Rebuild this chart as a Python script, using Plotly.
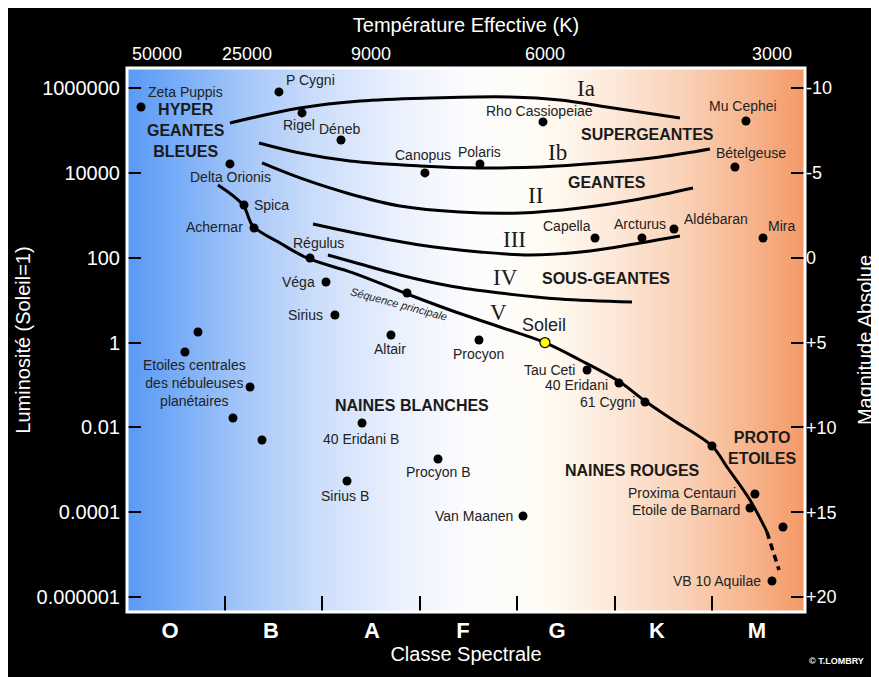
import plotly.graph_objects as go

# ---------------- axes data ----------------
# spectral coordinate: O=0 ... M=6, class boundaries at half-integers
class_labels = ["O", "B", "A", "F", "G", "K", "M"]
class_pos = [-0.065, 0.972, 2.009, 2.944, 3.909, 4.935, 5.962]
class_bounds = [0.5, 1.5, 2.5, 3.5, 4.5, 5.5]
temp_labels = ["50000", "25000", "9000", "6000", "3000"]
temp_pos = [-0.198, 0.726, 2.0, 3.785, 6.116]
lum_ticks = [6, 4, 2, 0, -2, -4, -6]          # log10(L / Lsun)
lum_labels = ["1000000", "10000", "100", "1", "0.01", "0.0001", "0.000001"]
mag_ticks = [-10, -5, 0, 5, 10, 15, 20]
mag_labels = ["-10", "-5", "0", "+5", "+10", "+15", "+20"]

X_RANGE = [-0.506, 6.455]
Y_RANGE = [-6.35, 6.47]

# ---------------- stars ----------------
star_names = ["Zeta Puppis", "P Cygni", "Rigel", "Déneb", "Delta Orionis", "Spica",
              "Achernar", "Régulus", "Véga", "Sirius", "Altair", "Procyon",
              "Tau Ceti", "40 Eridani", "61 Cygni", "Canopus", "Polaris",
              "Rho Cassiopeiae", "Mu Cephei", "Bételgeuse", "Capella", "Arcturus",
              "Aldébaran", "Mira", "40 Eridani B", "Sirius B", "Procyon B",
              "Van Maanen", "Proxima Centauri", "Etoile de Barnard", "VB 10 Aquilae"]
star_spec = [-0.362, 1.054, 1.291, 1.691, 0.551, 0.695, 0.798, 1.373, 1.537, 1.629,
             2.204, 3.108, 4.217, 4.545, 4.812, 2.553, 3.118, 3.765, 5.849, 5.736,
             4.299, 4.781, 5.110, 6.024, 1.907, 1.753, 2.687, 3.560, 5.941, 5.890, 6.116]
star_logL = [5.552, 5.906, 5.411, 4.774, 4.209, 3.242, 2.700, 1.993, 1.427, 0.650,
             0.178, 0.060, -0.647, -0.953, -1.401, 3.997, 4.209, 5.199, 5.222, 4.138,
             2.464, 2.464, 2.677, 2.464, -1.896, -3.263, -2.744, -4.088, -3.569, -3.899,
             -5.620]

pn_spec = [0.223, 0.089, 0.757, 0.582, 0.880]     # central stars of planetary nebulae
pn_logL = [0.249, -0.222, -1.047, -1.778, -2.297]
other_spec = [2.369, 5.500, 6.229]
other_logL = [1.168, -2.438, -4.347]
sun_spec = [3.785]
sun_logL = [0.0]

# ---------------- luminosity class curves ----------------
ia_spec = [0.551, 1.270, 1.886, 2.605, 3.426, 3.939, 4.350, 4.761, 5.171]
ia_logL = [5.175, 5.529, 5.694, 5.764, 5.788, 5.717, 5.576, 5.434, 5.293]
ib_spec = [0.849, 1.270, 1.783, 2.502, 3.118, 3.734, 4.350, 4.966, 5.479]
ib_logL = [4.704, 4.468, 4.279, 4.162, 4.114, 4.138, 4.232, 4.374, 4.562]
ii_spec = [0.880, 1.270, 1.783, 2.297, 2.913, 3.529, 4.145, 4.761, 5.305]
ii_logL = [4.232, 3.879, 3.502, 3.219, 3.077, 3.054, 3.172, 3.384, 3.643]
iii_spec = [1.404, 1.886, 2.502, 3.118, 3.631, 4.247, 4.761, 5.171]
iii_logL = [2.794, 2.559, 2.300, 2.135, 2.064, 2.158, 2.347, 2.512]
iv_spec = [1.557, 1.886, 2.297, 2.810, 3.323, 3.939, 4.679]
iv_logL = [2.064, 1.852, 1.592, 1.333, 1.168, 1.027, 0.956]
v_spec = [0.428, 0.685, 0.787, 1.065, 1.342, 1.814, 2.369, 2.810, 3.323, 3.785,
          4.145, 4.555, 4.812, 5.100, 5.500, 5.654, 5.890, 6.065]
v_logL = [3.714, 3.242, 2.747, 2.347, 1.993, 1.640, 1.145, 0.767, 0.367, 0.0,
          -0.411, -0.930, -1.377, -1.825, -2.438, -2.933, -3.711, -4.465]
v_ext_spec = [6.065, 6.126, 6.188]
v_ext_logL = [-4.465, -4.913, -5.361]

# ---------------- styling ----------------
FONT = "Liberation Sans, Arial, sans-serif"
SERIF = "Liberation Serif, Times New Roman, serif"
TXT = "#222222"

label_place = [("left", 5, 15), ("left", 5, 12), ("center", -3, -12), ("center", -1, 11),
               ("center", 1, -13), ("left", 8, 0), ("right", -9, 1), ("center", 8, 15),
               ("right", -9, 0), ("right", -10, 0), ("center", -1, -14), ("center", -1, -14),
               ("right", -10, 0), ("right", -9, -2), ("right", -8, 0), ("center", -2, 18),
               ("center", 0, 12), ("center", -3, 11), ("center", -3, 15), ("center", 16, 14),
               ("center", -28, 12), ("center", -2, 14), ("left", 8, 10), ("center", 18, 12),
               ("center", -1, -16), ("center", -2, -15), ("center", 0, -13), ("right", -8, 0),
               ("right", -17, 1), ("right", -8, -2), ("right", -9, 0)]

fig = go.Figure()

# gradient background (blue -> white -> orange) drawn as a heatmap strip
N = 340
edges = [X_RANGE[0] + (X_RANGE[1] - X_RANGE[0]) * i / N for i in range(N + 1)]
centers = [(edges[i] + edges[i + 1]) / 2 for i in range(N)]
grad = [
    [0.00, "rgb(88,153,245)"],
    [0.08, "rgb(122,174,247)"],
    [0.18, "rgb(168,200,248)"],
    [0.28, "rgb(203,221,250)"],
    [0.40, "rgb(234,240,253)"],
    [0.50, "rgb(252,252,254)"],
    [0.61, "rgb(255,252,244)"],
    [0.70, "rgb(253,236,222)"],
    [0.82, "rgb(250,210,184)"],
    [0.92, "rgb(247,180,140)"],
    [1.00, "rgb(244,152,102)"],
]
fig.add_trace(go.Heatmap(x=edges, y=[Y_RANGE[0], Y_RANGE[1]], z=[centers],
                         colorscale=grad, showscale=False, hoverinfo="skip",
                         zmin=X_RANGE[0], zmax=X_RANGE[1]))

# luminosity class curves
for xs, ys in [(ia_spec, ia_logL), (ib_spec, ib_logL), (ii_spec, ii_logL),
               (iii_spec, iii_logL), (iv_spec, iv_logL), (v_spec, v_logL)]:
    fig.add_trace(go.Scatter(x=xs, y=ys, mode="lines",
                             line=dict(color="black", width=3, shape="spline", smoothing=1.0),
                             showlegend=False, hoverinfo="skip"))
fig.add_trace(go.Scatter(x=v_ext_spec, y=v_ext_logL, mode="lines",
                         line=dict(color="black", width=3.5, dash="7px,5px"),
                         showlegend=False, hoverinfo="skip"))

# stars
dot = dict(color="black", size=9)
fig.add_trace(go.Scatter(x=star_spec, y=star_logL, mode="markers", marker=dot,
                         text=star_names, showlegend=False, hoverinfo="text"))
fig.add_trace(go.Scatter(x=pn_spec, y=pn_logL, mode="markers", marker=dot,
                         showlegend=False, hoverinfo="skip"))
fig.add_trace(go.Scatter(x=other_spec, y=other_logL, mode="markers", marker=dot,
                         showlegend=False, hoverinfo="skip"))
fig.add_trace(go.Scatter(x=sun_spec, y=sun_logL, mode="markers",
                         marker=dict(color="#ffff00", size=10, line=dict(color="black", width=1.2)),
                         showlegend=False, hoverinfo="skip"))

# dummy trace for the secondary (top / right) axes
fig.add_trace(go.Scatter(x=[None], y=[None], xaxis="x2", yaxis="y2",
                         showlegend=False, hoverinfo="skip"))

ann = []
for name, xs, ys, (anc, dx, dy) in zip(star_names, star_spec, star_logL, label_place):
    ann.append(dict(x=xs, y=ys, text=name, showarrow=False, xanchor=anc, yanchor="middle",
                    xshift=dx, yshift=dy, font=dict(family=FONT, size=14, color=TXT)))
ann.append(dict(x=sun_spec[0], y=sun_logL[0], text="Soleil", showarrow=False,
                xanchor="center", yanchor="middle", xshift=-1, yshift=18,
                font=dict(family=FONT, size=18, color=TXT)))
ann.append(dict(x=0.182, y=-0.953, text="Etoiles centrales<br>des nébuleuses<br>planétaires",
                showarrow=False, xanchor="center", yanchor="middle",
                font=dict(family=FONT, size=14, color=TXT)))
ann.append(dict(x=2.286, y=0.909, text="<i>Séquence principale</i>", showarrow=False,
                textangle=15, xanchor="center", yanchor="middle",
                font=dict(family=FONT, size=11, color=TXT)))

regions = [
    ("HYPER<br>GEANTES<br>BLEUES", 0.100, 4.986),
    ("SUPERGEANTES", 4.833, 4.892),
    ("GEANTES", 4.422, 3.761),
    ("SOUS-GEANTES", 4.412, 1.498),
    ("NAINES BLANCHES", 2.420, -1.472),
    ("NAINES ROUGES", 4.689, -3.027),
    ("PROTO<br>ETOILES", 6.013, -2.485),
]
for t, xs, ys in regions:
    ann.append(dict(x=xs, y=ys, text=t, showarrow=False, xanchor="center", yanchor="middle",
                    font=dict(family=FONT, size=16, color="#1a1a1a", weight="bold")))

romans = [("Ia", 4.206, 6.024), ("Ib", 3.909, 4.515), ("II", 3.693, 3.502),
          ("III", 3.477, 2.464), ("IV", 3.375, 1.569), ("V", 3.303, 0.744)]
for t, xs, ys in romans:
    ann.append(dict(x=xs, y=ys, text=t, showarrow=False, xanchor="center", yanchor="middle",
                    yshift=-2, font=dict(family=SERIF, size=23, color="#1a1a1a")))

ann.append(dict(x=1.046, y=-0.090, xref="paper", yref="paper", text="© T.LOMBRY",
                showarrow=False, xanchor="center", yanchor="middle",
                font=dict(family=FONT, size=9, color="white", weight="bold")))

shapes = [
    # white frame around the plot area
    dict(type="rect", xref="paper", yref="paper", x0=0, x1=1, y0=0, y1=1,
         line=dict(color="white", width=3), layer="above"),
]

titlefont = dict(family=FONT, size=20, color="white")

fig.update_layout(
    width=879, height=677,
    margin=dict(l=119, r=82, t=60, b=73),
    paper_bgcolor="black", plot_bgcolor="white",
    hovermode=False,
    annotations=ann, shapes=shapes,
    xaxis=dict(range=X_RANGE, tickmode="array", tickvals=class_pos, ticktext=class_labels,
               ticks="", showgrid=False, zeroline=False, showline=False,
               ticklabelstandoff=3,
               tickfont=dict(family=FONT, size=22, color="white", weight="bold"),
               minor=dict(tickmode="array", tickvals=class_bounds, ticks="inside", ticklen=16,
                          tickwidth=2, tickcolor="black", showgrid=False),
               title=dict(text="Classe Spectrale", font=titlefont, standoff=2)),
    xaxis2=dict(range=X_RANGE, overlaying="x", side="top", tickmode="array",
                tickvals=temp_pos, ticktext=temp_labels, ticks="", showgrid=False,
                zeroline=False, showline=False, ticklabelstandoff=3,
                tickfont=dict(family=FONT, size=18, color="white"),
                title=dict(text="Température Effective (K)", font=titlefont, standoff=6)),
    yaxis=dict(range=Y_RANGE, tickmode="array", tickvals=lum_ticks, ticktext=lum_labels,
               ticks="inside", ticklen=14, tickwidth=2, tickcolor="black",
               showgrid=False, zeroline=False, showline=False, ticklabelstandoff=6,
               tickfont=dict(family=FONT, size=20, color="white"),
               title=dict(text="Luminosité (Soleil=1)", font=titlefont, standoff=0)),
    yaxis2=dict(range=[5 - 2.5 * Y_RANGE[0], 5 - 2.5 * Y_RANGE[1]], overlaying="y", side="right",
                tickmode="array", tickvals=mag_ticks, ticktext=mag_labels,
                ticks="inside", ticklen=14, tickwidth=2, tickcolor="black",
                showgrid=False, zeroline=False, showline=False,
                tickfont=dict(family=FONT, size=18, color="white"),
                title=dict(text="Magnitude Absolue", font=titlefont, standoff=22)),
)

fig.write_html("out.html")
